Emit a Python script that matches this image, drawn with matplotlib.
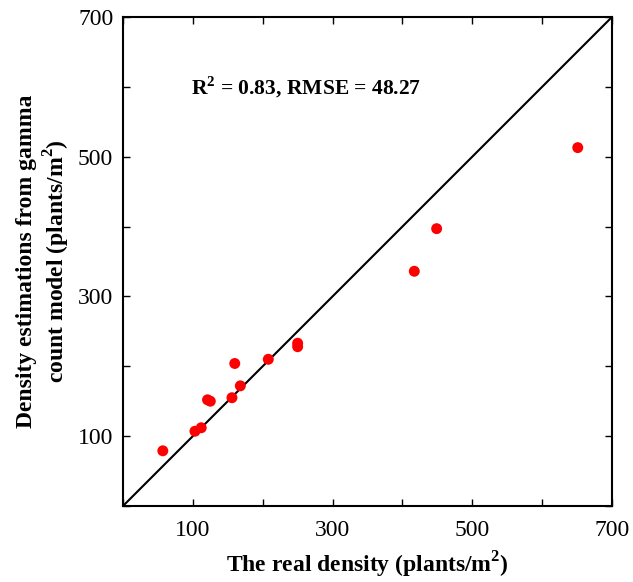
import numpy as np
import matplotlib.pyplot as plt

# values
real_density = [57, 103, 112, 121, 125, 160, 156, 168, 208, 250, 250, 417, 449, 651]
estimated_density = [79, 107, 112, 152, 150, 204, 155, 172, 210, 233, 228, 336, 397, 513]
tick_values = [0, 100, 200, 300, 400, 500, 600, 700]
tick_labels = ['', '100', '', '300', '', '500', '', '700']

plt.rcParams['font.family'] = ['Liberation Serif', 'DejaVu Serif']
plt.rcParams['mathtext.fontset'] = 'custom'
plt.rcParams['mathtext.rm'] = 'Liberation Serif'
plt.rcParams['mathtext.bf'] = 'Liberation Serif:bold'

fig = plt.figure(figsize=(6.33, 5.82), dpi=100)
ax = fig.add_axes([0.1943, 0.1306, 0.7725, 0.8402])

ax.plot([0, 700], [0, 700], color='black', linewidth=1.5, zorder=1)
ax.scatter(real_density, estimated_density, s=62, color='#ff0000', edgecolors='none', zorder=2)

ax.text(98, 600, r'R$^{\mathbf{2}}$ = 0.83, RMSE = 48.27', fontsize=15.5, fontweight='bold', va='center', ha='left')

ax.set_xlim(0, 700)
ax.set_ylim(0, 700)
ax.set_xticks(tick_values)
ax.set_xticklabels(tick_labels)
ax.set_yticks(tick_values)
ax.set_yticklabels(tick_labels)
ax.tick_params(direction='in', top=True, right=True, length=5, width=1, labelsize=17)
ax.tick_params(axis='x', pad=10)
ax.tick_params(axis='y', pad=7)
for sp in ax.spines.values():
    sp.set_linewidth(1.5)

ax.set_xlabel(r'The real density (plants/m$^{\mathbf{2}}$)', fontsize=17, fontweight='bold', labelpad=6)
ax.set_ylabel('Density estimations from gamma\n' + r'count model (plants/m$^{\mathbf{2}}$)',
              fontsize=17, fontweight='bold', labelpad=4)

fig.savefig('out.png', dpi=100)
